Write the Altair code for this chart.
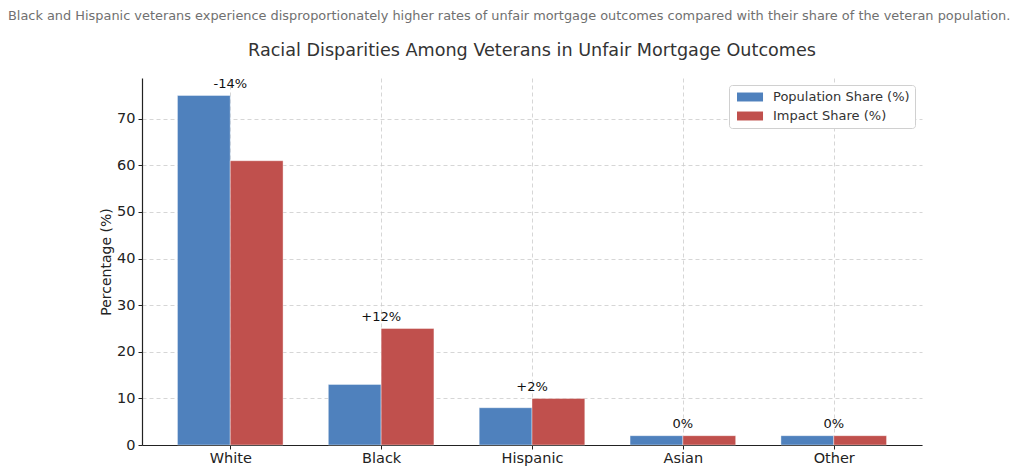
import altair as alt
import pandas as pd

categories = ["White", "Black", "Hispanic", "Asian", "Other"]
population_share = [75, 13, 8, 2, 2]
impact_share = [61, 25, 10, 2, 2]
diff_labels = ["-14%", "+12%", "+2%", "0%", "0%"]
series_names = ["Population Share (%)", "Impact Share (%)"]
series_colors = ["#4f81bd", "#c0504d"]
title_text = "Racial Disparities Among Veterans in Unfair Mortgage Outcomes"
top_note = "Black and Hispanic veterans experience disproportionately higher rates of unfair mortgage outcomes compared with their share of the veteran population."

rows = []
for i, c in enumerate(categories):
    rows.append({"idx": i, "cat": c, "series": series_names[0], "value": population_share[i], "side": -1})
    rows.append({"idx": i, "cat": c, "series": series_names[1], "value": impact_share[i], "side": 0})
bars_df = pd.DataFrame(rows)

ann_df = pd.DataFrame({
    "idx": list(range(len(categories))),
    "label": diff_labels,
    "top": [max(a, b) for a, b in zip(population_share, impact_share)],
})

FONT = "DejaVu Sans"
W, H = 780, 367
BAR_W = 0.35

label_expr = "[" + ",".join(f"'{c}'" for c in categories) + "][round(datum.value)]"

xscale = alt.Scale(domain=[-0.585, 4.585], nice=False, zero=False)
yscale = alt.Scale(domain=[0, 78.75], nice=False)

x_axis = alt.Axis(values=list(range(len(categories))), labelExpr=label_expr, title=None,
                  grid=True, gridDash=[4, 3], gridColor="#cccccc", gridWidth=0.8,
                  domainColor="#222222", domainWidth=1.2, tickColor="#222222", tickSize=4,
                  labelFontSize=14.5, labelFont=FONT, labelColor="#222222", labelPadding=2)
y_axis = alt.Axis(values=[0, 10, 20, 30, 40, 50, 60, 70], title="Percentage (%)",
                  grid=True, gridDash=[4, 3], gridColor="#cccccc", gridWidth=0.8,
                  domainColor="#222222", domainWidth=1.2, tickColor="#222222", tickSize=4,
                  labelFontSize=14.5, labelFont=FONT, labelColor="#222222", labelPadding=3,
                  titleFontSize=14, titleFont=FONT, titleFontWeight="normal", titleColor="#222222",
                  titlePadding=3)

bars = alt.Chart(bars_df).transform_calculate(
    x0=f"datum.idx + datum.side * {BAR_W}",
    x1=f"datum.idx + (datum.side + 1) * {BAR_W}",
).mark_bar(stroke="white", strokeWidth=0.8, strokeOpacity=0.5).encode(
    x=alt.X("x0:Q", scale=xscale, axis=x_axis),
    x2="x1:Q",
    y=alt.Y("value:Q", scale=yscale, axis=y_axis),
    y2=alt.datum(0),
    color=alt.Color("series:N", scale=alt.Scale(domain=series_names, range=series_colors),
                    sort=series_names,
                    legend=alt.Legend(title=None, orient="top-right", offset=7,
                                      labelFontSize=13, labelFont=FONT, labelColor="#333333",
                                      symbolType="M-1.86,-0.64H1.86V0.64H-1.86Z", symbolSize=196,
                                      symbolStrokeWidth=0, symbolOpacity=1, symbolOffset=9,
                                      fillColor="white", strokeColor="#d0d0d0",
                                      cornerRadius=3, padding=5, rowPadding=5, labelOffset=16)),
)

ann = alt.Chart(ann_df).transform_calculate(ty="datum.top + 1").mark_text(
    baseline="bottom", align="center", fontSize=13, font=FONT, color="#111111"
).encode(
    x=alt.X("idx:Q", scale=xscale),
    y=alt.Y("ty:Q", scale=yscale),
    text="label:N",
)

note = alt.Chart(pd.DataFrame({"t": [top_note]})).mark_text(
    align="left", baseline="middle", fontSize=12.9, font=FONT, color="#707070"
).encode(x=alt.value(-134), y=alt.value(-62), text="t:N")

title = alt.Chart(pd.DataFrame({"t": [title_text]})).mark_text(
    align="center", baseline="middle", fontSize=17.6, font=FONT, color="#333333"
).encode(x=alt.value(W / 2), y=alt.value(-27), text="t:N")

chart = alt.layer(bars, ann, note, title).properties(
    width=W, height=H,
    autosize=alt.AutoSizeParams(type="none"),
    padding={"left": 134, "top": 70, "right": 93, "bottom": 22},
).configure_view(stroke=None)

chart.save("out.html", embed_options={"renderer": "svg", "actions": False})
